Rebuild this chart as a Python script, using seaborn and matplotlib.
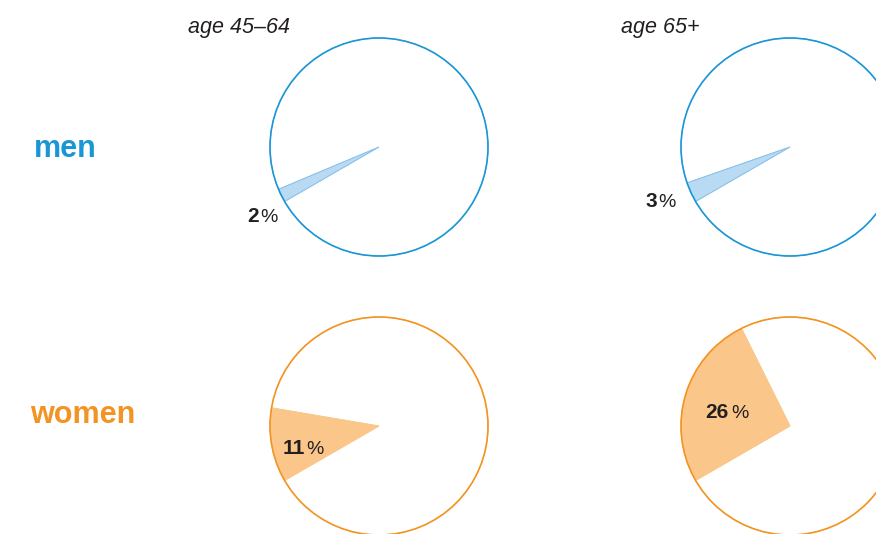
import matplotlib
matplotlib.use("Agg")
import matplotlib.pyplot as plt
from matplotlib.patches import Circle
import seaborn as sns

# Share of each group (percent)
groups = ["men", "women"]
age_bands = ["age 45\u201364", "age 65+"]
men_pct = [2, 3]
women_pct = [11, 26]

sns.set_theme(style="white")
plt.rcParams["font.family"] = ["Liberation Sans", "DejaVu Sans"]

W, H = 876, 534
fig = plt.figure(figsize=(W / 100, H / 100), dpi=100)
ax = fig.add_axes([0, 0, 1, 1])

# pixel-based layout (y measured upward from the bottom edge)
col_x = [379, 790]
row_y = [H - 147, H - 426]
radius = 109
end_angle = 210

styles = {
    "men": dict(line="#1a96d6", fill="#b9daf3", edge="#8cc3ea"),
    "women": dict(line="#f39322", fill="#fbc689", edge="#fbc689"),
}
values = {"men": men_pct, "women": women_pct}

# label anchors: (x where the number ends, baseline y)
label_pos = {
    "men": [(259, H - 222), (657, H - 207)],
    "women": [(305, H - 454), (728, H - 418)],
}
pct_gap = {"men": [1, 1], "women": [1, 3]}

text_color = "#231f20"

for r, g in enumerate(groups):
    st = styles[g]
    for c, pct in enumerate(values[g]):
        cx, cy = col_x[c], row_y[r]
        span = pct * 3.6
        ax.pie([pct, 100 - pct],
               colors=[st["fill"], "none"],
               startangle=end_angle - span,
               counterclock=True,
               center=(cx, cy), radius=radius,
               wedgeprops=dict(linewidth=0.6, edgecolor=st["edge"]),
               normalize=True)
        # outline of the whole circle
        ax.add_patch(Circle((cx, cy), radius, fill=False,
                            edgecolor=st["line"], linewidth=1.2, zorder=5))
        lx, ly = label_pos[g][c]
        ax.text(lx, ly, f"{pct}", ha="right", va="baseline", fontsize=15,
                fontweight="bold", color=text_color, zorder=6)
        ax.text(lx + pct_gap[g][c], ly, "%", ha="left", va="baseline",
                fontsize=14, color=text_color, zorder=6)

# column headers
header_x = [239, 660]
for x, t in zip(header_x, age_bands):
    ax.text(x, H - 33, t, ha="center", va="baseline", fontsize=15.5,
            style="italic", color=text_color)

# row headers
ax.text(34, H - 157, "men", ha="left", va="baseline", fontsize=22,
        fontweight="bold", color=styles["men"]["line"])
ax.text(30, H - 423, "women", ha="left", va="baseline", fontsize=22,
        fontweight="bold", color=styles["women"]["line"])

ax.set_xlim(0, W)
ax.set_ylim(0, H)
ax.set_aspect("equal", adjustable="box")
ax.axis("off")

fig.savefig("out.png", dpi=100, facecolor="white")
